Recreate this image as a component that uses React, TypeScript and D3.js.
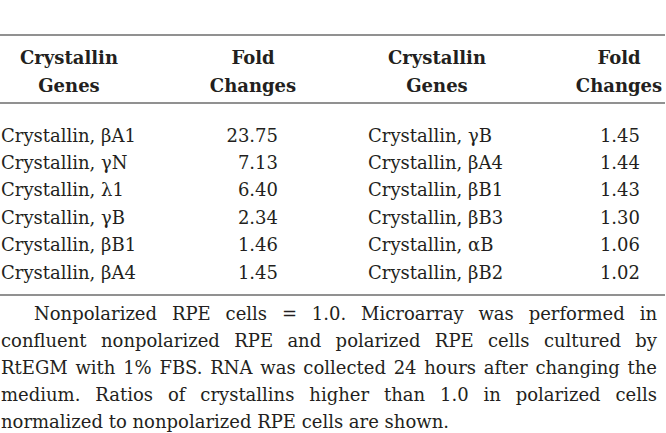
import React, { useMemo } from "react";
import * as d3 from "d3";

const leftGenes = ["Crystallin, βA1", "Crystallin, γN", "Crystallin, λ1", "Crystallin, γB", "Crystallin, βB1", "Crystallin, βA4"];
const leftValues = ["23.75", "7.13", "6.40", "2.34", "1.46", "1.45"];
const rightGenes = ["Crystallin, γB", "Crystallin, βA4", "Crystallin, βB1", "Crystallin, βB3", "Crystallin, αB", "Crystallin, βB2"];
const rightValues = ["1.45", "1.44", "1.43", "1.30", "1.06", "1.02"];
const headerGene = ["Crystallin", "Genes"];
const headerFold = ["Fold", "Changes"];
const footLines = [
  "Nonpolarized RPE cells = 1.0. Microarray was performed in",
  "confluent nonpolarized RPE and polarized RPE cells cultured by",
  "RtEGM with 1% FBS. RNA was collected 24 hours after changing the",
  "medium. Ratios of crystallins higher than 1.0 in polarized cells",
  "normalized to nonpolarized RPE cells are shown.",
];

const W = 666;
const H = 433;
const FONT = "'DejaVu Serif', serif";
const FS = 18;
const TXT = "#231f20";
const RULE = "#6d6d6d";

export default function App() {
  const rowY = d3.scalePoint<number>().domain(d3.range(leftGenes.length)).range([141.7, 278.5]);
  const footY = d3.scalePoint<number>().domain(d3.range(footLines.length)).range([320, 427.5]);

  const footWords = useMemo(() => {
    const c = document.createElement("canvas").getContext("2d")!;
    c.font = `${FS}px 'DejaVu Serif'`;
    return footLines.map((line, i) => {
      const words = line.split(" ");
      const x0 = i === 0 ? 34 : 1;
      const x1 = 657;
      const widths = words.map((w) => c.measureText(w).width);
      const justify = i < footLines.length - 1;
      const spaceW = c.measureText(" ").width;
      const total = d3.sum(widths);
      const gap = justify ? (x1 - x0 - total) / (words.length - 1) : spaceW;
      let x = x0;
      return words.map((w, j) => {
        const item = { w, x };
        x += widths[j] + gap;
        return item;
      });
    });
  }, []);

  const headers = [
    { lines: headerGene, cx: 69 },
    { lines: headerFold, cx: 253 },
    { lines: headerGene, cx: 437 },
    { lines: headerFold, cx: 619 },
  ];

  return (
    <svg width={W} height={H} style={{ position: "absolute", left: 0, top: 0, background: "#fff" }} fontFamily={FONT} fontSize={FS} fill={TXT}>
      <rect width={W} height={H} fill="#fff" />
      <line x1={0} x2={665} y1={35} y2={35} stroke={RULE} strokeWidth={1.5} />
      <line x1={0} x2={665} y1={103} y2={103} stroke={RULE} strokeWidth={1.5} />
      <line x1={0} x2={665} y1={295} y2={295} stroke={RULE} strokeWidth={1.5} />
      {headers.map((h, i) => (
        <g key={i} fontWeight="bold" textAnchor="middle">
          <text x={h.cx} y={64}>{h.lines[0]}</text>
          <text x={h.cx} y={91.5}>{h.lines[1]}</text>
        </g>
      ))}
      {leftGenes.map((g, i) => (
        <g key={"l" + i}>
          <text x={1} y={rowY(i)}>{g}</text>
          <text x={278} y={rowY(i)} textAnchor="end">{leftValues[i]}</text>
        </g>
      ))}
      {rightGenes.map((g, i) => (
        <g key={"r" + i}>
          <text x={368} y={rowY(i)}>{g}</text>
          <text x={640} y={rowY(i)} textAnchor="end">{rightValues[i]}</text>
        </g>
      ))}
      {footWords.map((ws, i) => (
        <g key={"f" + i}>
          {ws.map((o, j) => (
            <text key={j} x={o.x} y={footY(i)}>{o.w}</text>
          ))}
        </g>
      ))}
    </svg>
  );
}
